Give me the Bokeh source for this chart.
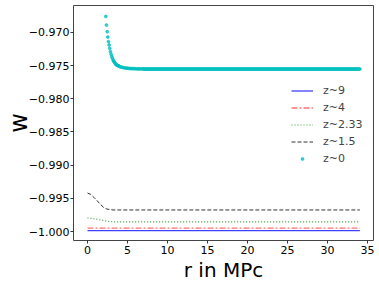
import numpy as np
from bokeh.plotting import figure
from bokeh.models import FixedTicker, CustomJSTickFormatter, Range1d, Legend, LegendItem
from bokeh.embed import file_html
from bokeh.resources import INLINE

# line series (r in MPc)
r_line = [0.0, 0.4, 0.8, 1.2, 1.6, 2.0, 2.4, 2.8, 3.2, 34.05]
w_z9 = [-0.99985] * 10
w_z4 = [-0.99950] * 10
w_z233 = [-0.99795, -0.99800, -0.99808, -0.99815, -0.99825, -0.99835, -0.99843, -0.99850, -0.99855, -0.99855]
w_z15 = [-0.99420, -0.99440, -0.99485, -0.99535, -0.99590, -0.99635, -0.99660, -0.99670, -0.99675, -0.99675]

# z~0 scatter: steep part read point by point
r_z0_curve = [2.29, 2.37, 2.46, 2.54, 2.62, 2.70, 2.78, 2.87, 2.95, 3.04, 3.12, 3.20, 3.29, 3.37,
              3.45, 3.54, 3.62, 3.70, 3.79, 3.87, 3.95, 4.04, 4.12, 4.29, 4.45, 4.62, 4.79, 4.95,
              5.12, 5.29, 5.45, 5.62, 5.79, 5.95, 6.12, 6.29, 6.45, 6.62, 6.79, 6.95]
w_z0_curve = [-0.9676, -0.9689, -0.9699, -0.9707, -0.9714, -0.9719, -0.9724, -0.9729, -0.9733,
              -0.97365, -0.9739, -0.9742, -0.97435, -0.9745, -0.97465, -0.9748, -0.9749, -0.97495,
              -0.9750, -0.97505, -0.9751, -0.97515, -0.9752, -0.97525, -0.9753, -0.97535, -0.97538,
              -0.9754, -0.97542, -0.97544, -0.97545, -0.97546, -0.97547, -0.97548, -0.97549,
              -0.9755, -0.9755, -0.9755, -0.9755, -0.9755]
r_z0_flat = list(np.linspace(7.05, 34.05, 271))
w_z0_flat = [-0.97552] * len(r_z0_flat)
r_z0 = r_z0_curve + r_z0_flat
w_z0 = w_z0_curve + w_z0_flat

x_ticks = [0, 5, 10, 15, 20, 25, 30, 35]
y_ticks = [-1.000, -0.995, -0.990, -0.985, -0.980, -0.975, -0.970]

FONT = "DejaVu Sans"

p = figure(width=378, height=284, output_backend="svg", toolbar_location=None,
           x_range=Range1d(-1.75, 35.75), y_range=Range1d(-1.00135, -0.96595),
           min_border_left=73, min_border_right=5, min_border_top=5, min_border_bottom=44)
p.background_fill_color = "white"
p.border_fill_color = "white"
p.outline_line_color = "#444444"
p.outline_line_width = 1
p.grid.visible = False

r9 = p.line(r_line, w_z9, line_color="#0000ff", line_alpha=0.75, line_width=1.3)
r4 = p.line(r_line, w_z4, line_color="#ff0000", line_alpha=0.55, line_width=1.3, line_dash="6 2 2 2")
r233 = p.line(r_line, w_z233, line_color="#008000", line_alpha=0.8, line_width=1.1, line_dash="1 2")
r15 = p.line(r_line, w_z15, line_color="#000000", line_alpha=0.8, line_width=1.0, line_dash="4 2")
r0 = p.scatter(r_z0, w_z0, size=2.8, fill_color="#00bfbf", line_color="#00bfbf", fill_alpha=0.75, line_alpha=0.75)

for ax in (p.xaxis[0], p.yaxis[0]):
    ax.axis_line_color = None
    ax.major_tick_line_color = "#333333"
    ax.major_tick_out = 3
    ax.major_tick_in = 0
    ax.minor_tick_line_color = None
    ax.major_label_text_font = FONT
    ax.major_label_text_font_size = "11px"
    ax.major_label_text_color = "black"
    ax.major_label_standoff = 1
    ax.axis_label_text_font = FONT
    ax.axis_label_text_font_style = "normal"
    ax.axis_label_text_color = "black"

p.xaxis.ticker = FixedTicker(ticks=x_ticks)
p.yaxis.ticker = FixedTicker(ticks=y_ticks)
p.yaxis.formatter = CustomJSTickFormatter(code="return (tick < 0 ? '\u2212' : '') + Math.abs(tick).toFixed(3);")
p.xaxis.axis_label = "r in MPc"
p.xaxis.axis_label_text_font_size = "20px"
p.xaxis.axis_label_standoff = 1
p.xaxis.major_label_standoff = 2
p.yaxis.axis_label = "w"
p.yaxis.axis_label_text_font_size = "24px"
p.yaxis.axis_label_standoff = -7

legend = Legend(items=[
    LegendItem(label="z~9", renderers=[r9]),
    LegendItem(label="z~4", renderers=[r4]),
    LegendItem(label="z~2.33", renderers=[r233]),
    LegendItem(label="z~1.5", renderers=[r15]),
    LegendItem(label="z~0", renderers=[r0]),
], location=(218, 73))
legend.border_line_color = None
legend.background_fill_alpha = 0
legend.label_text_font = FONT
legend.label_text_font_size = "11px"
legend.glyph_width = 22
legend.glyph_height = 7
legend.label_height = 17
legend.spacing = 0
legend.padding = 0
legend.margin = 0
legend.label_standoff = 10
p.add_layout(legend, "center")

open("out.html", "w").write(file_html(p, INLINE))
